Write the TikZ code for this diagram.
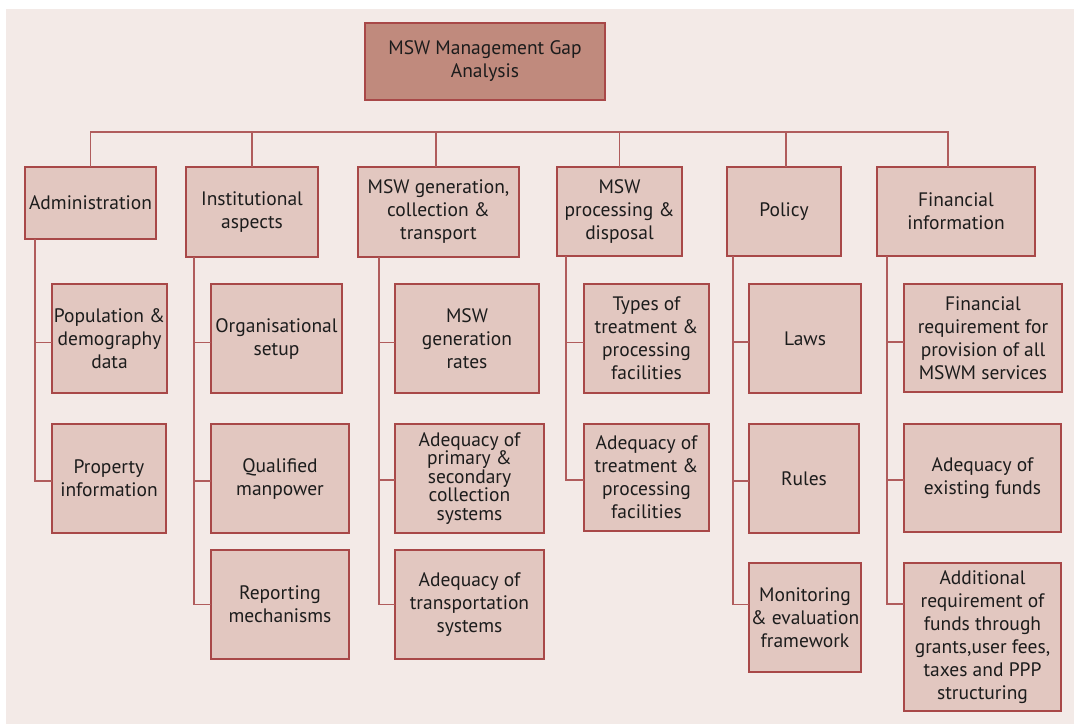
\documentclass[tikz,border=0pt]{standalone}
\usepackage{fontspec}
\setmainfont{PT Sans}
\definecolor{bgpink}{HTML}{F3EAE7}
\definecolor{boxfill}{HTML}{E2C7C0}
\definecolor{topfill}{HTML}{C08A7D}
\definecolor{boxline}{HTML}{A84848}
\definecolor{conline}{HTML}{B05C5C}
\definecolor{txt}{HTML}{1C1C1C}
\tikzset{
  box/.style={draw=boxline, fill=boxfill, line width=1.3pt, inner sep=0pt, outer sep=0pt,
    align=center, text=txt, font=\fontsize{19.5}{23}\selectfont},
  tightbox/.style={box, font=\fontsize{19.5}{18.5}\selectfont},
  topbox/.style={box, fill=topfill},
  con/.style={draw=conline, line width=1.2pt}
}
\newcommand{\bx}[7][box]{%
  \node[#1, minimum width={(#4-#2)*1pt}, minimum height={(#5-#3)*1pt}] (#6) at ({(#2+#4)/2},{(#3+#5)/2}) {#7};}
\begin{document}
\begin{tikzpicture}[x=1pt,y=-1pt]
\useasboundingbox (0,0) rectangle (1074,724);
\fill[white] (0,0) rectangle (1074,724);
\fill[bgpink] (6,9) rectangle (1074,724);
\coordinate (bus) at (0,132);
% top
\bx[topbox]{365}{23}{605}{100}{top}{MSW Management Gap\\Analysis}
% level 1
\bx{25}{167}{156}{239}{admin}{Administration}
\bx{186}{167}{318}{257}{inst}{Institutional\\aspects}
\bx{358}{167}{519}{257}{gen}{MSW generation,\\collection \&\\transport}
\bx{557}{167}{682}{256}{proc}{MSW\\processing \&\\disposal}
\bx{727}{167}{841}{256}{pol}{Policy}
\bx{877}{167}{1035}{256}{fin}{Financial\\information}
% bus
\draw[con] (admin.north) -- (admin.north |- bus) -- ([xshift=-8pt]fin.north |- bus) -- ([xshift=-8pt]fin.north);
\draw[con] (inst.north) -- (inst.north |- bus);
\draw[con] ([xshift=-2.5pt]gen.north) -- ([xshift=-2.5pt]gen.north |- bus);
\draw[con] (proc.north) -- (proc.north |- bus);
\draw[con] ([xshift=2pt]pol.north) -- ([xshift=2pt]pol.north |- bus);
% level 2 - administration
\bx{52}{284}{167}{393}{pop}{Population \&\\demography\\data}
\bx{52}{424}{166}{533}{prop}{Property\\information}
% institutional
\bx{211}{284}{342}{393}{org}{Organisational\\setup}
\bx{211}{424}{349}{533}{qual}{Qualified\\manpower}
\bx{211}{550}{349}{659}{rep}{Reporting\\mechanisms}
% generation
\bx{395}{284}{539}{393}{rates}{MSW\\generation\\rates}
\bx[tightbox]{395}{424}{544}{533}{prim}{Adequacy of\\primary \&\\secondary\\collection\\systems}
\bx{395}{550}{544}{659}{trans}{Adequacy of\\transportation\\systems}
% processing
\bx{584}{284}{709}{393}{types}{Types of\\treatment \&\\processing\\facilities}
\bx{584}{424}{709}{531}{adtreat}{Adequacy of\\treatment \&\\processing\\facilities}
% policy
\bx{749}{284}{861}{393}{laws}{Laws}
\bx{749}{424}{859}{533}{rules}{Rules}
\bx{749}{563}{861}{672}{mon}{Monitoring\\\& evaluation\\framework}
% financial
\bx{904}{284}{1062}{392}{freq}{Financial\\requirement for\\provision of all\\MSWM services}
\bx{904}{424}{1061}{532}{funds}{Adequacy of\\existing funds}
\bx{904}{563}{1061}{711}{addl}{Additional\\requirement of\\funds through\\grants,user fees,\\taxes and PPP\\structuring}
% spines
\draw[con] ([xshift=10pt]admin.south west) |- ([yshift=-4pt]pop.west);
\draw[con] ([xshift=10pt]admin.south west) |- ([yshift=-2.5pt]prop.west);
\draw[con] ([xshift=8pt]inst.south west) |- ([yshift=-4pt]org.west);
\draw[con] ([xshift=8pt]inst.south west) |- ([yshift=-2.5pt]qual.west);
\draw[con] ([xshift=8pt]inst.south west) |- (rep.west);
\draw[con] ([xshift=21pt]gen.south west) |- ([yshift=-4pt]rates.west);
\draw[con] ([xshift=21pt]gen.south west) |- ([yshift=-1.5pt]prim.west);
\draw[con] ([xshift=21pt]gen.south west) |- (trans.west);
\draw[con] ([xshift=9pt]proc.south west) |- ([yshift=-4pt]types.west);
\draw[con] ([xshift=9pt]proc.south west) |- ([yshift=-2.5pt]adtreat.west);
\draw[con] ([xshift=6pt]pol.south west) |- ([yshift=-3.5pt]laws.west);
\draw[con] ([xshift=6pt]pol.south west) |- ([yshift=-2.5pt]rules.west);
\draw[con] ([xshift=6pt]pol.south west) |- ([yshift=13pt]mon.west);
\draw[con] ([xshift=10pt]fin.south west) |- ([yshift=-4pt]freq.west);
\draw[con] ([xshift=10pt]fin.south west) |- ([yshift=-2pt]funds.west);
\draw[con] ([xshift=10pt]fin.south west) |- ([yshift=33pt]addl.west);
\end{tikzpicture}
\end{document}
